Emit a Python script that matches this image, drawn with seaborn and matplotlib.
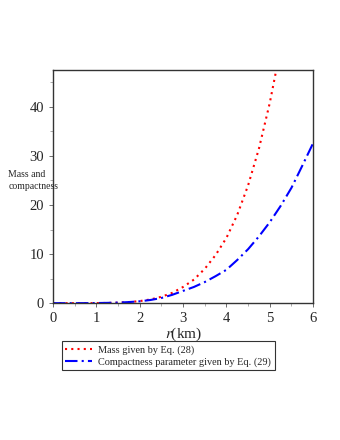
import numpy as np
import pandas as pd
import matplotlib
matplotlib.use("Agg")
import matplotlib.pyplot as plt
import seaborn as sns
from matplotlib.ticker import MultipleLocator

# values
r_mass = [0, 0.25, 0.5, 0.75, 1, 1.25, 1.5, 1.75, 2, 2.25, 2.5, 2.75, 3,
          3.25, 3.5, 3.75, 4, 4.25, 4.5, 4.75, 5, 5.25]
mass = [0, 0.0, 0.0004, 0.003, 0.013, 0.04, 0.1, 0.22, 0.42, 0.76, 1.3, 2.1,
        3.3, 4.8, 7.0, 9.8, 13.3, 18.0, 24.0, 31.5, 40.8, 52.0]

r_comp = [0, 0.25, 0.5, 0.75, 1, 1.25, 1.5, 1.75, 2, 2.25, 2.5, 2.75, 3,
          3.25, 3.5, 3.75, 4, 4.25, 4.5, 4.75, 5, 5.25, 5.5, 5.75, 6]
comp = [0, 0.0, 0.002, 0.008, 0.025, 0.06, 0.12, 0.22, 0.38, 0.65, 1.05, 1.7,
        2.5, 3.3, 4.3, 5.5, 6.8, 8.8, 11.0, 13.6, 16.5, 19.8, 23.5, 28.0, 32.6]

lab_mass = "Mass given by Eq. (28)"
lab_comp = "Compactness parameter given by Eq. (29)"

sns.set_style("ticks")
plt.rcParams["font.family"] = ["Liberation Serif", "DejaVu Serif"]
plt.rcParams["mathtext.fontset"] = "stix"

fig = plt.figure(figsize=(3.4, 4.4), dpi=100)
ax = fig.add_axes([0.156, 0.311, 0.765, 0.530])

df_m = pd.DataFrame({"r": r_mass, "v": mass})
df_c = pd.DataFrame({"r": r_comp, "v": comp})
sns.lineplot(data=df_m, x="r", y="v", ax=ax, color="red", linestyle=(0, (1, 2)),
             linewidth=1.5, label=lab_mass, legend=False)
sns.lineplot(data=df_c, x="r", y="v", ax=ax, color="blue", linestyle=(0, (6, 2, 1, 2)),
             linewidth=1.5, label=lab_comp, legend=False)

ax.set_xlim(0, 6)
ax.set_ylim(0, 47.5)
ax.xaxis.set_major_locator(MultipleLocator(1))
ax.xaxis.set_minor_locator(MultipleLocator(0.5))
ax.yaxis.set_major_locator(MultipleLocator(10))
ax.yaxis.set_minor_locator(MultipleLocator(5))
ax.tick_params(labelsize=10.5, length=3, width=0.6, color="#555555")
ax.tick_params(which="minor", length=2, width=0.5, color="#888888")
for s in ax.spines.values():
    s.set_color("#333333")
    s.set_linewidth(1.0)

ax.set_xlabel(r"$r$(km)", fontsize=11, labelpad=0)
ax.set_ylabel("")
fig.text(0.024, 0.59, "Mass and\ncompactness", fontsize=7, ha="left", va="center",
         linespacing=1.5)

h, l = ax.get_legend_handles_labels()
leg = fig.legend(h, l, loc="upper left", bbox_to_anchor=(0.182, 0.224),
                 fontsize=7.4, frameon=True, fancybox=False, handlelength=2.6,
                 borderpad=0.35, labelspacing=0.25, handletextpad=0.6,
                 borderaxespad=0)
leg.get_frame().set_edgecolor("black")
leg.get_frame().set_linewidth(0.8)

fig.savefig("out.png", dpi=100)
